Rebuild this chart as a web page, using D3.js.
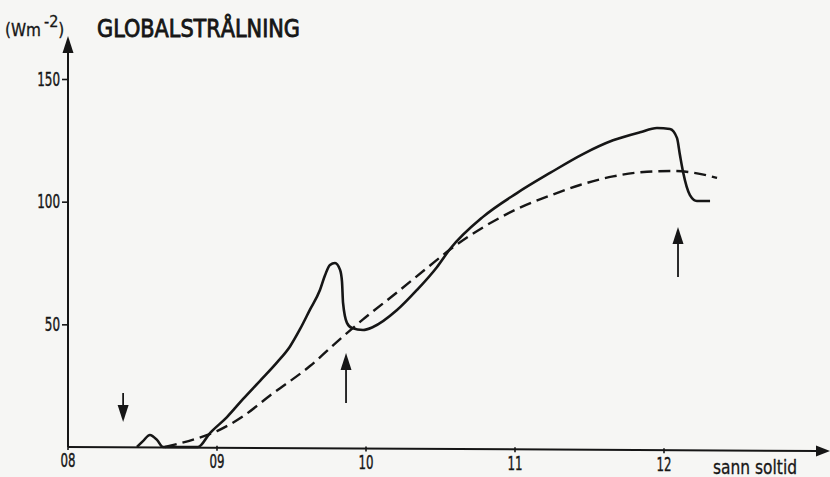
<!DOCTYPE html>
<html>
<head>
<meta charset="utf-8">
<script src="https://cdn.jsdelivr.net/npm/d3@7"></script>
<style>
  body { margin: 0; background: #f6f6f4; }
  svg { display: block; }
  text { font-family: "DejaVu Sans Condensed", "DejaVu Sans", sans-serif; fill: #161616; }
</style>
</head>
<body>
<svg id="chart" width="830" height="477"></svg>
<script>
// solid line: measured global radiation (hour, W/m2)
var solidTime = [8.463, 8.503, 8.55, 8.597, 8.638, 8.872, 8.953, 9.067, 9.174, 9.289, 9.403, 9.49, 9.557, 9.624, 9.691, 9.725, 9.758, 9.792, 9.826, 9.839, 9.846, 9.872, 9.906, 9.98, 10.047, 10.208, 10.342, 10.477, 10.564, 10.785, 11.013, 11.235, 11.456, 11.658, 11.839, 11.953, 12.04, 12.087, 12.107, 12.128, 12.174, 12.221, 12.309];
var solidValue = [0, 2.4, 4.9, 2.9, 0, 0, 5.7, 12.2, 19.5, 27, 34.5, 41, 48, 56, 64, 70, 74.2, 75, 72.2, 67.3, 58.7, 50.6, 48.5, 47.7, 48.9, 55.8, 64, 73.4, 80.7, 93.8, 103.5, 111.7, 119.4, 125, 128.3, 130, 129.6, 126, 119, 112.1, 102.7, 100.3, 100.3];

// dashed line: clear-sky reference
var dashTime = [8.651, 8.866, 9.0, 9.174, 9.356, 9.624, 9.826, 9.98, 10.208, 10.43, 10.564, 10.785, 11.013, 11.235, 11.436, 11.658, 11.886, 12.06, 12.174, 12.356];
var dashValue = [0, 3.5, 6.5, 12.5, 21, 33, 44, 52, 63, 74, 80.5, 89.5, 97, 102.5, 106.8, 110.3, 112.2, 112.5, 112, 109.7];

// arrows: time, tail value, tip value
var arrowTime = [8.37, 9.866, 12.094];
var arrowFrom = [22, 17.9, 69.3];
var arrowTo = [10.2, 38.3, 89.7];

var xTicks = [8, 9, 10, 11, 12];
var xTickLabels = ["08", "09", "10", "11", "12"];
var yTicks = [50, 100, 150];

var svg = d3.select("#chart"),
    width = +svg.attr("width"),
    height = +svg.attr("height");

var x = d3.scaleLinear().domain([8, 12]).range([68, 664]);
var y = d3.scaleLinear().domain([0, 150]).range([447, 79]);

var ink = "#161616";

// filled triangle head, tip at (tx,ty), pointing along (dx,dy)
function head(tx, ty, dx, dy, len, half) {
    var n = Math.sqrt(dx * dx + dy * dy);
    dx /= n; dy /= n;
    var bx = tx - dx * len, by = ty - dy * len;
    return "M" + tx + "," + ty +
        "L" + (bx - dy * half) + "," + (by + dx * half) +
        "L" + (bx + dy * half) + "," + (by - dx * half) + "Z";
}

// axes
svg.append("line")
    .attr("x1", x(8)).attr("y1", y(0))
    .attr("x2", x(8)).attr("y2", 48)
    .attr("stroke", ink).attr("stroke-width", 2);
svg.append("path")
    .attr("d", head(x(8), 36, 0, -1, 17, 5.5))
    .attr("fill", ink);

svg.append("line")
    .attr("x1", x(8)).attr("y1", y(0))
    .attr("x2", 818).attr("y2", y(0) + 4)
    .attr("stroke", ink).attr("stroke-width", 2);
svg.append("path")
    .attr("d", head(830, y(0) + 4, 1, 0, 14, 5.5))
    .attr("fill", ink);

var yAxis = d3.axisLeft(y).tickValues(yTicks).tickSize(6).tickPadding(2);
var gy = svg.append("g").attr("transform", "translate(" + x(8) + ",0)").call(yAxis);
gy.select(".domain").remove();
gy.selectAll(".tick line").attr("stroke", ink).attr("stroke-width", 1.6);
gy.selectAll(".tick text")
    .attr("font-size", 19)
    .attr("fill", ink)
    .attr("stroke", ink).attr("stroke-width", 0.4)
    .attr("textLength", function(d) { return String(d).length * 7.6; })
    .attr("lengthAdjust", "spacingAndGlyphs");

var xAxis = d3.axisBottom(x).tickValues(xTicks)
    .tickFormat(function(d, i) { return xTickLabels[i]; })
    .tickSize(5).tickPadding(4);
var gx = svg.append("g").attr("transform", "translate(0," + (y(0) - 2) + ")").call(xAxis);
gx.select(".domain").remove();
gx.selectAll(".tick line").attr("stroke", ink).attr("stroke-width", 1.6);
gx.selectAll(".tick").attr("transform", function(d) {
    return "translate(" + x(d) + "," + ((x(d) - 68) / 762 * 4) + ")";
});
gx.selectAll(".tick text")
    .attr("font-size", 19)
    .attr("fill", ink)
    .attr("stroke", ink).attr("stroke-width", 0.4)
    .attr("textLength", 15)
    .attr("lengthAdjust", "spacingAndGlyphs");

// curves
var solid = d3.zip(solidTime, solidValue);
var dashed = d3.zip(dashTime, dashValue);

var line = d3.line()
    .x(function(d) { return x(d[0]); })
    .y(function(d) { return y(d[1]); })
    .curve(d3.curveMonotoneX);

svg.append("path")
    .datum(dashed)
    .attr("d", line)
    .attr("fill", "none")
    .attr("stroke", ink)
    .attr("stroke-width", 2.4)
    .attr("stroke-dasharray", "12,6");

svg.append("path")
    .datum(solid)
    .attr("d", line)
    .attr("fill", "none")
    .attr("stroke", ink)
    .attr("stroke-width", 2.6)
    .attr("stroke-linejoin", "round");

// arrows
var arrows = svg.selectAll(".arrow")
    .data(d3.range(arrowTime.length))
    .enter().append("g")
    .attr("class", "arrow");

arrows.append("line")
    .attr("x1", function(i) { return x(arrowTime[i]); })
    .attr("y1", function(i) { return y(arrowFrom[i]); })
    .attr("x2", function(i) { return x(arrowTime[i]); })
    .attr("y2", function(i) { return y(arrowTo[i]) + (arrowTo[i] > arrowFrom[i] ? 8 : -8); })
    .attr("stroke", ink)
    .attr("stroke-width", 1.8);

arrows.append("path")
    .attr("d", function(i) {
        return head(x(arrowTime[i]), y(arrowTo[i]), 0, arrowTo[i] > arrowFrom[i] ? -1 : 1, 17, 5.5);
    })
    .attr("fill", ink);

// labels
var unit = svg.append("text")
    .attr("x", 5).attr("y", 36)
    .attr("font-size", 17)
    .attr("stroke", ink).attr("stroke-width", 0.3);
unit.append("tspan").text("(Wm");
unit.append("tspan").attr("dy", -9).attr("dx", 3).attr("font-size", 16).text("-2");
unit.append("tspan").attr("dy", 9).text(")");

svg.append("text")
    .attr("x", 97).attr("y", 37)
    .attr("font-size", 24)
    .attr("textLength", 203)
    .attr("lengthAdjust", "spacingAndGlyphs")
    .attr("stroke", ink).attr("stroke-width", 0.8)
    .text("GLOBALSTRÅLNING");

svg.append("text")
    .attr("x", 713).attr("y", 474)
    .attr("font-size", 19)
    .attr("stroke", ink).attr("stroke-width", 0.3)
    .attr("textLength", 84)
    .attr("lengthAdjust", "spacingAndGlyphs")
    .text("sann soltid");
</script>
</body>
</html>
